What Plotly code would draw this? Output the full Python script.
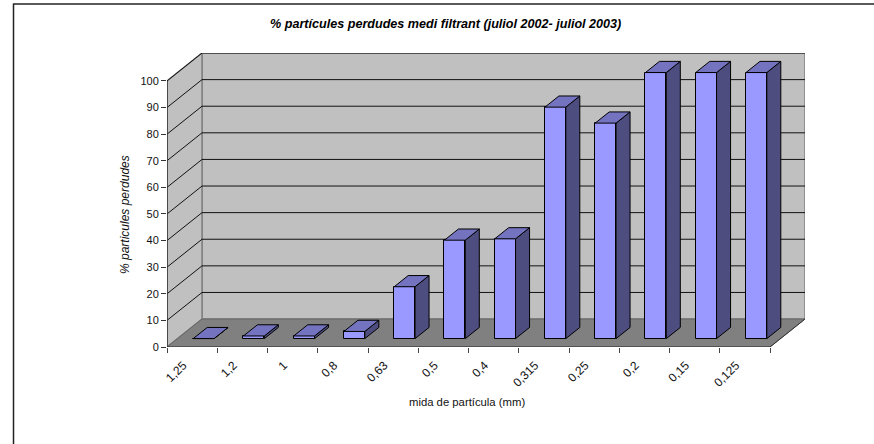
import plotly.graph_objects as go

# Particle sizes (mm) and share of particles lost through the filter medium
sizes = ["1,25", "1,2", "1", "0,8", "0,63", "0,5", "0,4", "0,315", "0,25", "0,2", "0,15", "0,125"]
lost_pct = [0, 1, 1, 2.7, 19.5, 37, 37.5, 87, 81, 100, 100, 100]
y_ticks = [0, 10, 20, 30, 40, 50, 60, 70, 80, 90, 100]

TITLE = "% partícules perdudes medi filtrant (juliol 2002- juliol 2003)"
Y_TITLE = "% particules perdudes"
X_TITLE = "mida de partícula (mm)"

WIDTH, HEIGHT = 874, 444
MARGIN = dict(l=167, r=69, t=53, b=97)
PLOT_W = WIDTH - MARGIN["l"] - MARGIN["r"]
PLOT_H = HEIGHT - MARGIN["t"] - MARGIN["b"]

# Oblique projection expressed in axis units
DEPTH_X = 0.6965
DEPTH_Y = 10.5
BAR_WIDTH = 0.415
BAR_FRONT = 0.30     # fraction of the depth where a bar's front face sits
BAR_BACK = 0.70      # fraction of the depth where a bar's back face sits
BAR_NUDGE = 0.02     # small sideways offset of the bars within their category

n = len(sizes)
x_range = [0, n + DEPTH_X]
y_range = [0, y_ticks[-1] + DEPTH_Y]

WALL, FLOOR, EDGE = "#C0C0C0", "#808080", "#808080"
FRONT, SIDE, TOP = "#9999FF", "#4D4D80", "#7373BF"


def poly(points):
    return "M" + " L".join(f"{x},{y}" for x, y in points) + " Z"


def px_x(px):
    """Horizontal page position as a fraction of the plot area."""
    return (px - MARGIN["l"]) / PLOT_W


def px_y(px):
    """Vertical page position as a fraction of the plot area."""
    return 1 - (px - MARGIN["t"]) / PLOT_H


shapes = [
    # Back wall, side wall and floor
    dict(type="path", layer="below", fillcolor=WALL, line=dict(color=EDGE, width=1.5),
         path=poly([(DEPTH_X, DEPTH_Y), (n + DEPTH_X, DEPTH_Y),
                    (n + DEPTH_X, 100 + DEPTH_Y), (DEPTH_X, 100 + DEPTH_Y)])),
    dict(type="path", layer="below", fillcolor=WALL, line=dict(color=EDGE, width=1.5),
         path=poly([(0, 0), (DEPTH_X, DEPTH_Y), (DEPTH_X, 100 + DEPTH_Y), (0, 100)])),
]
# Gridlines run along the side wall, then across the back wall
for v in y_ticks[1:]:
    shapes.append(dict(type="path", layer="below", line=dict(color="#111111", width=1),
                       path=f"M0,{v} L{DEPTH_X},{v + DEPTH_Y} L{n + DEPTH_X},{v + DEPTH_Y}"))
shapes += [
    dict(type="path", layer="below", fillcolor=FLOOR, line=dict(color="#666666", width=1),
         path=poly([(0, 0), (n, 0), (n + DEPTH_X, DEPTH_Y), (DEPTH_X, DEPTH_Y)])),
    # Value and category axis lines
    dict(type="line", layer="below", x0=0, x1=0, y0=0, y1=100, line=dict(color="#333333", width=1.5)),
    dict(type="line", layer="below", x0=0, x1=n, y0=0, y1=0, line=dict(color="#333333", width=1)),
    dict(type="line", layer="below", x0=n, x1=n + DEPTH_X, y0=0, y1=DEPTH_Y, line=dict(color="#333333", width=1)),
    # Chart frame: only the left and top edges are drawn
    dict(type="line", xref="paper", yref="paper", layer="above",
         x0=px_x(13.5), x1=px_x(13.5), y0=px_y(HEIGHT), y1=px_y(3.5),
         line=dict(color="#222222", width=1.5)),
    dict(type="line", xref="paper", yref="paper", layer="above",
         x0=px_x(13.5), x1=px_x(WIDTH), y0=px_y(4), y1=px_y(4),
         line=dict(color="#222222", width=1.5)),
]

front_dx = BAR_FRONT * DEPTH_X + BAR_NUDGE
front_dy = BAR_FRONT * DEPTH_Y
bar_dx = (BAR_BACK - BAR_FRONT) * DEPTH_X
bar_dy = (BAR_BACK - BAR_FRONT) * DEPTH_Y
centers = [i + 0.5 + front_dx for i in range(n)]

fig = go.Figure()

# Front faces
fig.add_trace(go.Bar(
    x=centers, y=lost_pct, base=[front_dy] * n, width=BAR_WIDTH,
    marker=dict(color=FRONT, line=dict(color="#000000", width=1)),
    hoverinfo="skip", showlegend=False,
))

# Side and top faces of every bar
for c, v in zip(centers, lost_pct):
    x0, x1 = c - BAR_WIDTH / 2, c + BAR_WIDTH / 2
    y0, y1 = front_dy, front_dy + v
    fig.add_trace(go.Scatter(
        x=[x1, x1 + bar_dx, x1 + bar_dx, x1, x1],
        y=[y0, y0 + bar_dy, y1 + bar_dy, y1, y0],
        mode="lines", fill="toself", fillcolor=SIDE,
        line=dict(color="#000000", width=1), hoverinfo="skip", showlegend=False,
    ))
    fig.add_trace(go.Scatter(
        x=[x0, x1, x1 + bar_dx, x0 + bar_dx, x0],
        y=[y1, y1, y1 + bar_dy, y1 + bar_dy, y1],
        mode="lines", fill="toself", fillcolor=TOP,
        line=dict(color="#000000", width=1), hoverinfo="skip", showlegend=False,
    ))

FONT = "Liberation Sans, Arial, sans-serif"
TEXT = dict(xref="paper", yref="paper", xanchor="center", yanchor="middle", showarrow=False)
fig.update_layout(
    width=WIDTH, height=HEIGHT, margin=dict(**MARGIN, pad=0),
    paper_bgcolor="#FFFFFF", plot_bgcolor="#FFFFFF",
    font=dict(family=FONT, size=11, color="#111111"),
    bargap=0, shapes=shapes,
    xaxis=dict(
        range=x_range, showgrid=False, zeroline=False, showline=False,
        tickmode="array", tickvals=[i + 0.5 for i in range(n)], ticktext=sizes,
        tickangle=-45, ticks="", ticklen=0, ticklabelstandoff=8, ticklabelshift=-9,
        tickfont=dict(size=12),
        minor=dict(tick0=0, dtick=1, ticks="outside", ticklen=5, tickcolor="#444444", tickwidth=1, showgrid=False),
    ),
    yaxis=dict(
        range=y_range, showgrid=False, zeroline=False, showline=False,
        tickmode="array", tickvals=y_ticks, ticks="outside", ticklen=5,
        tickcolor="#333333", tickwidth=1, tickfont=dict(size=11),
    ),
    annotations=[
        dict(text=f"<b><i>{TITLE}</i></b>", x=px_x(445.5), y=px_y(24),
             font=dict(size=12.6, color="#000000"), **TEXT),
        dict(text=f"<i>{Y_TITLE}</i>", textangle=-90, x=px_x(125), y=px_y(215),
             font=dict(size=12), **TEXT),
        dict(text=X_TITLE, x=px_x(467), y=px_y(402),
             font=dict(size=11.3), **TEXT),
    ],
)

fig.write_html("out.html", config=dict(displayModeBar=False))
